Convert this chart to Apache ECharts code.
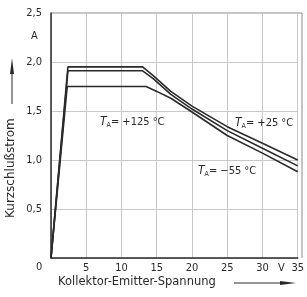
<!DOCTYPE html>
<html>
<head>
<meta charset="utf-8">
<script src="https://cdn.jsdelivr.net/npm/echarts@6/dist/echarts.min.js"></script>
<style>
  html, body { margin: 0; padding: 0; background: #fff; }
  #chart { width: 307px; height: 297px; }
</style>
</head>
<body>
<div id="chart"></div>
<script>
// Kurzschlussstrom vs. Kollektor-Emitter-Spannung, drei Temperaturen
var xTicks = [0, 5, 10, 15, 20, 25, 30, 35];
var yTicks = [0, 0.5, 1.0, 1.5, 2.0, 2.5];

var curveTop = [[0, 0], [2.4, 1.95], [13.0, 1.95], [14.5, 1.86], [17, 1.70], [20, 1.55], [25, 1.34], [30, 1.17], [35, 1.00]];
var curveMid = [[0, 0], [2.4, 1.91], [13.0, 1.91], [14.5, 1.83], [17, 1.67], [20, 1.52], [25, 1.30], [30, 1.12], [35, 0.94]];
var curveLow = [[0, 0], [2.3, 1.75], [13.5, 1.75], [15, 1.70], [17, 1.63], [20, 1.49], [25, 1.25], [30, 1.07], [35, 0.88]];

var font = '"DejaVu Sans Condensed", "DejaVu Sans", sans-serif';
var wide = '"DejaVu Sans", sans-serif';
var ink = '#2a2a2a';

var chart = echarts.init(document.getElementById('chart'));

function line(data) {
    return {
        type: 'line',
        data: data,
        symbol: 'none',
        lineStyle: { color: ink, width: 1.6 },
        z: 5
    };
}

function tempLabel(x, y, txt) {
    return {
        type: 'text',
        left: x,
        top: y,
        style: {
            text: '{t|T}{s|A}' + txt,
            font: '11px ' + font,
            fill: ink,
            rich: {
                t: { fontStyle: 'italic', fontSize: 12, fontFamily: font, fill: ink },
                s: { fontSize: 7, fontFamily: font, fill: ink, verticalAlign: 'bottom', padding: [6, 0, 0, 0] }
            }
        },
        z: 10
    };
}

chart.setOption({
    animation: false,
    grid: { left: 51, top: 13, right: 5, bottom: 39 },
    xAxis: {
        type: 'value',
        min: 0,
        max: 35,
        interval: 5,
        axisLine: { show: true, onZero: false, lineStyle: { color: ink, width: 1.5 } },
        axisTick: { show: false },
        splitLine: { show: true, lineStyle: { color: '#c8c8c8', width: 1 } },
        axisLabel: {
            margin: 5,
            color: ink,
            fontFamily: font,
            fontSize: 11,
            formatter: function (v) { return v === 0 ? '' : String(v); }
        }
    },
    yAxis: {
        type: 'value',
        min: 0,
        max: 2.5,
        interval: 0.5,
        axisLine: { show: true, onZero: false, lineStyle: { color: ink, width: 1.5 } },
        axisTick: { show: false },
        splitLine: { show: true, lineStyle: { color: '#c8c8c8', width: 1 } },
        axisLabel: {
            margin: 9,
            color: ink,
            fontFamily: font,
            fontSize: 11,
            formatter: function (v) { return v === 0 ? '' : v.toFixed(1).replace('.', ','); }
        }
    },
    series: [line(curveTop), line(curveMid), line(curveLow)],
    graphic: [
        // rahmen oben/rechts
        { type: 'line', shape: { x1: 51, y1: 13, x2: 302, y2: 13 }, style: { stroke: '#888', lineWidth: 1 } },
        { type: 'line', shape: { x1: 302, y1: 13, x2: 302, y2: 258 }, style: { stroke: '#888', lineWidth: 1 } },
        { type: 'text', left: 36, top: 262, style: { text: '0', font: '11px ' + font, fill: ink } },
        { type: 'text', left: 278, top: 263, style: { text: 'V', font: '11px ' + font, fill: ink } },
        { type: 'text', left: 31, top: 31, style: { text: 'A', font: '11px ' + font, fill: ink } },
        tempLabel(100, 116, '= +125 °C'),
        tempLabel(235, 117, '= +25 °C'),
        tempLabel(198, 165, '= −55 °C'),
        // x-achsen titel mit pfeil
        { type: 'text', left: 58, top: 276, style: { text: 'Kollektor-Emitter-Spannung', font: '11.5px ' + wide, fill: ink } },
        { type: 'line', shape: { x1: 234, y1: 283, x2: 286, y2: 283 }, style: { stroke: ink, lineWidth: 1 } },
        { type: 'polygon', shape: { points: [[280, 281], [296, 283], [280, 285]] }, style: { fill: ink } },
        // y-achsen titel mit pfeil
        {
            type: 'text',
            x: 5,
            y: 218,
            rotation: Math.PI / 2,
            style: { text: 'Kurzschlußstrom', font: '12px ' + wide, fill: ink, textAlign: 'left', textVerticalAlign: 'top' }
        },
        { type: 'line', shape: { x1: 12, y1: 104, x2: 12, y2: 68 }, style: { stroke: ink, lineWidth: 1 } },
        { type: 'polygon', shape: { points: [[10, 74], [12, 58], [14, 74]] }, style: { fill: ink } }
    ]
});
</script>
</body>
</html>
